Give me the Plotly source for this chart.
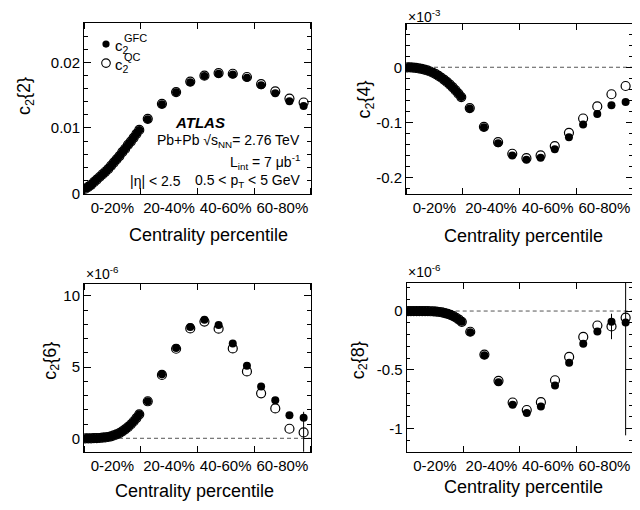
import plotly.graph_objects as go

# ---------------- data ----------------
centrality = [0.5, 1.5, 2.5, 3.5, 4.5, 5.5, 6.5, 7.5, 8.5, 9.5,
              10.5, 11.5, 12.5, 13.5, 14.5, 15.5, 16.5, 17.5, 18.5, 19.5,
              22.5, 27.5, 32.5, 37.5, 42.5, 47.5, 52.5, 57.5, 62.5, 67.5, 72.5, 77.5]

xtick_pos = [10, 30, 50, 70]
xtick_text = ["0-20%", "20-40%", "40-60%", "60-80%"]
xbin_edges = [0, 20, 40, 60, 80]

# c2{2}
c22_gfc = [0.0007, 0.0010, 0.0013, 0.0017, 0.0021, 0.0025, 0.0029, 0.0033, 0.0037, 0.0042,
           0.0047, 0.0052, 0.0057, 0.0063, 0.0068, 0.0074, 0.0079, 0.0085, 0.0091, 0.0097,
           0.01135, 0.01365, 0.01545, 0.0170, 0.01795, 0.0183, 0.0182, 0.0177, 0.01655, 0.0153, 0.0141, 0.01335]
c22_qc = [0.0007, 0.0010, 0.0013, 0.0017, 0.0021, 0.0025, 0.0029, 0.0033, 0.0037, 0.0042,
          0.0047, 0.0052, 0.0057, 0.0063, 0.0068, 0.0074, 0.0079, 0.0085, 0.0091, 0.0097,
          0.0114, 0.0137, 0.0155, 0.0171, 0.0180, 0.0184, 0.0183, 0.0178, 0.0167, 0.0156, 0.0145, 0.0139]

# c2{4}  (x 1e-3)
c24_gfc = [-0.0001, -0.0003, -0.0007, -0.0012, -0.002, -0.003, -0.0042, -0.0058, -0.0077, -0.0099,
           -0.0125, -0.0155, -0.019, -0.0228, -0.027, -0.0315, -0.0365, -0.042, -0.048, -0.054,
           -0.075, -0.109, -0.138, -0.160, -0.168, -0.164, -0.149, -0.127, -0.104, -0.085, -0.069, -0.063]
c24_qc = [-0.0001, -0.0003, -0.0007, -0.0012, -0.002, -0.003, -0.0042, -0.0058, -0.0077, -0.0099,
          -0.0125, -0.0155, -0.019, -0.0228, -0.027, -0.0315, -0.0365, -0.042, -0.048, -0.054,
          -0.074, -0.108, -0.136, -0.157, -0.165, -0.160, -0.143, -0.119, -0.093, -0.071, -0.049, -0.034]

# c2{6}  (x 1e-6)
c26_gfc = [0.0, 0.0, 0.0, 0.01, 0.01, 0.02, 0.04, 0.06, 0.09, 0.14,
           0.20, 0.28, 0.37, 0.48, 0.62, 0.78, 0.97, 1.18, 1.42, 1.68,
           2.60, 4.49, 6.34, 7.81, 8.32, 7.95, 6.66, 5.09, 3.64, 2.67, 1.61, 1.45]
c26_qc = [0.0, 0.0, 0.0, 0.01, 0.01, 0.02, 0.04, 0.06, 0.09, 0.14,
          0.20, 0.28, 0.37, 0.48, 0.62, 0.78, 0.97, 1.18, 1.42, 1.68,
          2.60, 4.45, 6.29, 7.72, 8.20, 7.70, 6.31, 4.70, 3.16, 2.10, 0.67, 0.41]
c26_qc_err = [0] * 20 + [0, 0, 0, 0, 0, 0, 0, 0, 0, 0, 0, 1.45]

# c2{8}  (x 1e-6)
c28_gfc = [0.0, 0.0, 0.0, 0.0, 0.0, 0.0, -0.001, -0.001, -0.002, -0.003,
           -0.005, -0.008, -0.012, -0.017, -0.024, -0.033, -0.044, -0.057, -0.073, -0.092,
           -0.181, -0.376, -0.604, -0.797, -0.866, -0.811, -0.632, -0.440, -0.279, -0.173, -0.092, -0.097]
c28_qc = [0.0, 0.0, 0.0, 0.0, 0.0, 0.0, -0.001, -0.001, -0.002, -0.003,
          -0.005, -0.008, -0.012, -0.017, -0.024, -0.033, -0.044, -0.057, -0.073, -0.092,
          -0.176, -0.370, -0.593, -0.777, -0.841, -0.774, -0.588, -0.390, -0.220, -0.123, -0.131, -0.056]
c28_qc_err = [0] * 20 + [0, 0, 0, 0, 0, 0, 0, 0, 0, 0, 0.108, 1.0]

# ---------------- figure ----------------
# the page body has an 8px margin, so the figure is drawn 8px in from the window corner
OFF = 8
W, H = 640 - OFF, 510 - OFF
FONT = "Liberation Sans, Arial, Helvetica, sans-serif"


def px(x):
    return (x - OFF) / W


def py(y):
    return 1 - (y - OFF) / H


panels = [
    # (gfc, qc, qc_err, y range, y ticks, y ticktext, minor dtick, xdomain, ydomain, ytitle)
    (c22_gfc, c22_qc, None, [-0.0001, 0.0261], [0, 0.01, 0.02], ["0", "0.01", "0.02"], 0.002,
     [px(84), px(310.7)], [py(197), py(23)], "c<sub>2</sub>{2}"),
    (c24_gfc, c24_qc, None, [-0.23, 0.079], [-0.2, -0.1, 0], ["-0.2", "-0.1", "0"], 0.02,
     [px(406), px(632.7)], [py(197), py(24)], "c<sub>2</sub>{4}"),
    (c26_gfc, c26_qc, c26_qc_err, [-0.95, 10.85], [0, 5, 10], ["0", "5", "10"], 1,
     [px(84), px(310.7)], [py(459), py(288.3)], "c<sub>2</sub>{6}"),
    (c28_gfc, c28_qc, c28_qc_err, [-1.196, 0.242], [-1, -0.5, 0], ["-1", "-0.5", "0"], 0.1,
     [px(406.7), px(632.7)], [py(459), py(287)], "c<sub>2</sub>{8}"),
]

fig = go.Figure()
layout = dict(
    width=W, height=H, margin=dict(l=0, r=0, t=0, b=0),
    paper_bgcolor="white", plot_bgcolor="white",
    font=dict(family=FONT, color="black", size=15),
    showlegend=False,
)

shapes = []
annotations = []

for i, (gfc, qc, qerr, yr, yt, ytt, mdt, xd, yd, ytitle) in enumerate(panels):
    k = "" if i == 0 else str(i + 1)
    xref, yref = "x" + k, "y" + k
    err = None
    if qerr is not None:
        err = dict(type="data", array=qerr, visible=True, color="black", thickness=1, width=0)
    fig.add_trace(go.Scatter(
        x=centrality, y=qc, mode="markers", xaxis=xref, yaxis=yref,
        marker=dict(symbol="circle-open", size=9, color="black", line=dict(width=1.2, color="black")),
        error_y=err, name="c2 QC"))
    fig.add_trace(go.Scatter(
        x=centrality, y=gfc, mode="markers", xaxis=xref, yaxis=yref,
        marker=dict(symbol="circle", size=8, color="black", line=dict(width=0)),
        name="c2 GFC"))

    layout["xaxis" + k] = dict(
        domain=xd, anchor=yref, range=[0, 80],
        tickmode="array", tickvals=xtick_pos, ticktext=xtick_text, ticks="",
        tickfont=dict(size=15), showgrid=False, zeroline=False,
        showline=True, linecolor="black", linewidth=1, mirror="allticks",
        minor=dict(tickmode="array", tickvals=xbin_edges, ticks="inside",
                   ticklen=6, tickcolor="black", tickwidth=1, showgrid=False),
    )
    layout["yaxis" + k] = dict(
        domain=yd, anchor=xref, range=yr,
        tickmode="array", tickvals=yt, ticktext=ytt, ticks="inside", ticklen=7,
        tickcolor="black", tickwidth=1, tickfont=dict(size=15),
        showgrid=False, zeroline=False,
        showline=True, linecolor="black", linewidth=1, mirror="allticks",
        minor=dict(dtick=mdt, tick0=0, ticks="inside", ticklen=3.5,
                   tickcolor="black", tickwidth=1, showgrid=False),
    )
    if i > 0:
        shapes.append(dict(type="line", xref=xref + " domain", yref=yref,
                           x0=0, x1=1, y0=0, y1=0, layer="below",
                           line=dict(color="#555555", width=1, dash="4px,3px")))

# axis titles
xtitles = [(208, 239), (523.5, 240), (194.7, 499), (523.8, 495)]
ytitles = [(25.5, 98), (366, 101), (51.7, 366.7), (359, 366)]
for i, p in enumerate(panels):
    annotations.append(dict(text="Centrality percentile", x=px(xtitles[i][0]), y=py(xtitles[i][1]),
                            xref="paper", yref="paper", xanchor="center", yanchor="middle",
                            showarrow=False, font=dict(size=18)))
    annotations.append(dict(text=p[9], x=px(ytitles[i][0]), y=py(ytitles[i][1]), textangle=-90,
                            xref="paper", yref="paper", xanchor="center", yanchor="middle",
                            showarrow=False, font=dict(size=18)))

# exponent labels
for (x, y, t) in [(406, 16, "×10<sup>-3</sup>"), (84, 277, "×10<sup>-6</sup>"), (406, 275, "×10<sup>-6</sup>")]:
    annotations.append(dict(text=t, x=px(x), y=py(y), xref="paper", yref="paper",
                            xanchor="left", yanchor="middle", showarrow=False, font=dict(size=14)))

# panel-1 labels
txt = [
    ("<b><i>ATLAS</i></b>", 172.7, 124, "left", 15),
    ("Pb+Pb √s<sub>NN</sub>= 2.76 TeV", 302, 143, "right", 14),
    ("L<sub>int</sub> = 7 μb<sup>-1</sup>", 302, 164, "right", 14),
    ("|η| < 2.5", 128, 184, "left", 14),
    ("0.5 < p<sub>T</sub> < 5 GeV", 302, 184, "right", 14),
]
for t, x, y, xa, fs in txt:
    annotations.append(dict(text=t, x=px(x), y=py(y), xref="paper", yref="paper",
                            xanchor=xa, yanchor="middle", showarrow=False, font=dict(size=fs)))

# legend (panel 1)
shapes.append(dict(type="circle", xref="paper", yref="paper",
                   x0=px(106 - 3.6), x1=px(106 + 3.6), y0=py(44.7 + 3.6), y1=py(44.7 - 3.6),
                   fillcolor="black", line=dict(width=0)))
shapes.append(dict(type="circle", xref="paper", yref="paper",
                   x0=px(106 - 4.3), x1=px(106 + 4.3), y0=py(64 + 4.3), y1=py(64 - 4.3),
                   fillcolor="rgba(0,0,0,0)", line=dict(width=1.1, color="black")))
for (t, sup, y) in [("c<sub>2</sub>", "GFC", 47), ("c<sub>2</sub>", "QC", 66.5)]:
    annotations.append(dict(text=t, x=px(113), y=py(y), xref="paper", yref="paper",
                            xanchor="left", yanchor="middle", showarrow=False, font=dict(size=15)))
    annotations.append(dict(text=sup, x=px(121.5), y=py(y - 9), xref="paper", yref="paper",
                            xanchor="left", yanchor="middle", showarrow=False, font=dict(size=11)))

layout["shapes"] = shapes
layout["annotations"] = annotations
fig.update_layout(**layout)
fig.write_html("out.html")
